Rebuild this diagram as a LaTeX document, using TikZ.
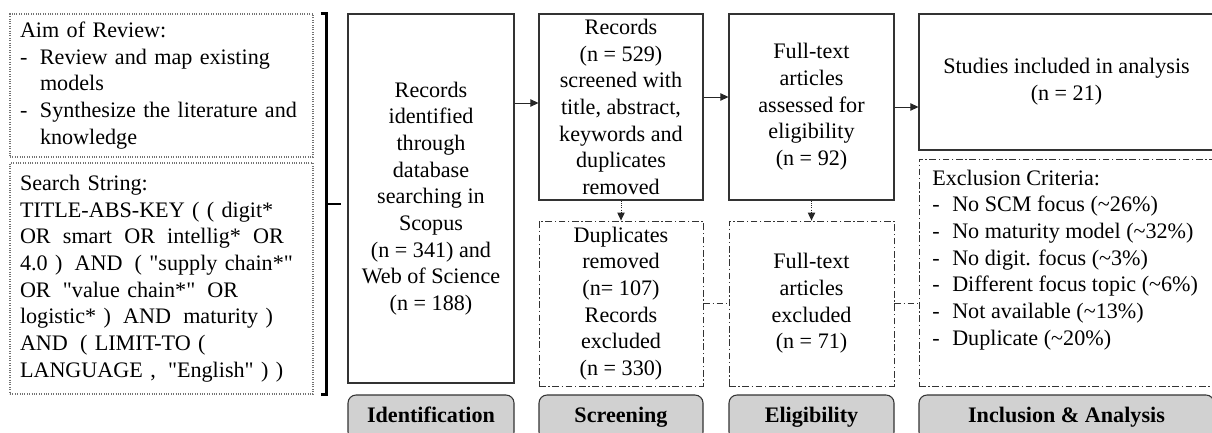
\documentclass[tikz,border=0pt]{standalone}
\usepackage{fontspec}
\setmainfont{Liberation Serif}
\newfontfamily\rawserif{Liberation Serif}
\usetikzlibrary{arrows.meta,calc}
\newcommand{\gp}{\hspace{0.55em}}
\newcommand{\qq}{{\rawserif\char34}}
\begin{document}
\begin{tikzpicture}[x=0.75pt,y=-0.75pt,
  font=\fontsize{16.6}{20}\selectfont,
  solidbox/.style={draw=black!80, line width=0.8pt, inner sep=0pt, align=center},
  dashbox/.style={draw=black!80, line width=0.6pt, dash pattern=on 5pt off 2pt on 1pt off 2pt, inner sep=0pt, align=center},
  dashline/.style={draw=black!80, line width=0.6pt, dash pattern=on 5pt off 2pt on 1pt off 2pt},
  dotbox/.style={draw=black!55, line width=0.8pt, densely dotted, inner xsep=7.5pt, inner ysep=4pt, align=left, text width=212.25pt},
  phase/.style={draw=black!80, line width=0.8pt, fill=black!18, rounded corners=6pt, font=\fontsize{16.6}{20}\selectfont\bfseries, inner sep=0pt, text height=11.5pt, text depth=3.5pt},
  arr/.style={-{Triangle[length=6pt,width=5.5pt]}, line width=0.7pt, draw=black!85},
]
\useasboundingbox (0,0) rectangle (1212,432);

% left boxes
\node[dotbox, minimum height=107.25pt] (aim) at (161.5,85.5) {Aim of Review:\\
\makebox[15pt][l]{-}Review and map existing\\
\hspace*{15pt}models\\
\makebox[15pt][l]{-}Synthesize the literature and\\
\hspace*{15pt}knowledge};

\node[dotbox, minimum height=173.25pt] (search) at (161.5,278.5) {Search String:\\
TITLE-ABS-KEY ( ( digit*\\
OR\gp smart\gp OR\gp intellig*\gp OR\\
4.0 )\gp AND\gp ( \qq supply chain*\qq\\
OR\gp \qq value chain*\qq\gp OR\\
logistic* )\gp AND\gp maturity )\\
AND\gp ( LIMIT-TO (\\
LANGUAGE ,\gp \qq English\qq\ ) )};

% bracket
\coordinate (bt) at ([xshift=9.75pt]aim.north east);
\coordinate (bb) at ([xshift=9.75pt]search.south east);
\coordinate (bm) at ($(bt)!0.5!(bb)$);
\draw[line width=1.6pt] ([xshift=-4.5pt]bt) -- (bt) -- (bb) -- ([xshift=-4.5pt]bb);
\draw[line width=1.6pt] (bm) -- ([xshift=10.5pt]bm);

% identification
\node[solidbox, minimum width=124.5pt, minimum height=276.75pt] (ident) at (431,198.5)
 {Records\\identified\\through\\database\\searching in\\Scopus\\(n = 341) and\\Web of Science\\(n = 188)};

% screening
\node[solidbox, minimum width=123pt, minimum height=139.5pt] (scr) at (621,107)
 {Records\\(n = 529)\\screened with\\title, abstract,\\keywords and\\duplicates\\removed};
\node[dashbox, minimum width=123pt, minimum height=123.75pt] (scrx) at (621,303.5)
 {Duplicates\\removed\\(n= 107)\\Records\\excluded\\(n = 330)};

% eligibility
\node[solidbox, minimum width=123.75pt, minimum height=139.5pt] (elig) at (811.5,107)
 {Full-text\\articles\\assessed for\\eligibility\\(n = 92)};
\node[dashbox, minimum width=123.75pt, minimum height=123.75pt] (eligx) at (811.5,303.5)
 {Full-text\\articles\\excluded\\(n = 71)};

% inclusion
\node[solidbox, minimum width=221.25pt, minimum height=102pt] (incl) at (1066.5,82)
 {Studies included in analysis\\(n = 21)};
\node[dashbox, minimum width=221.25pt, minimum height=170.25pt] (inclx) at (1066.5,272.5) {};
\node[anchor=west, align=left, inner sep=0pt] (inclxt) at (932,260) {Exclusion Criteria:\\
\makebox[15pt][l]{-}No SCM focus (\textasciitilde26\%)\\
\makebox[15pt][l]{-}No maturity model (\textasciitilde32\%)\\
\makebox[15pt][l]{-}No digit. focus (\textasciitilde3\%)\\
\makebox[15pt][l]{-}Different focus topic (\textasciitilde6\%)\\
\makebox[15pt][l]{-}Not available (\textasciitilde13\%)\\
\makebox[15pt][l]{-}Duplicate (\textasciitilde20\%)};

% phases
\node[phase, minimum width=124.5pt, minimum height=33.75pt] (pid) at (431,417.5) {Identification};
\node[phase, minimum width=123pt, minimum height=33.75pt] (psc) at (621,417.5) {Screening};
\node[phase, minimum width=123.75pt, minimum height=33.75pt] (pel) at (811.5,417.5) {Eligibility};
\node[phase, minimum width=221.25pt, minimum height=33.75pt] (pin) at (1066.5,417.5) {Inclusion \& Analysis};

% connectors
\coordinate (a1) at ([yshift=3pt]scr.west);
\draw[arr] (ident.east |- a1) -- (a1);
\coordinate (a2) at ([yshift=7.5pt]elig.west);
\draw[arr] (scr.east |- a2) -- (a2);
\draw[arr] (elig.east) -- (elig.east -| incl.west);
\draw[arr, densely dotted] (scr.south) -- (scrx.north);
\draw[arr, densely dotted] (elig.south) -- (eligx.north);
\draw[dashline] (scrx.east) -- (eligx.west);
\draw[dashline] (eligx.east) -- (eligx.east -| inclx.west);
\end{tikzpicture}
\end{document}
